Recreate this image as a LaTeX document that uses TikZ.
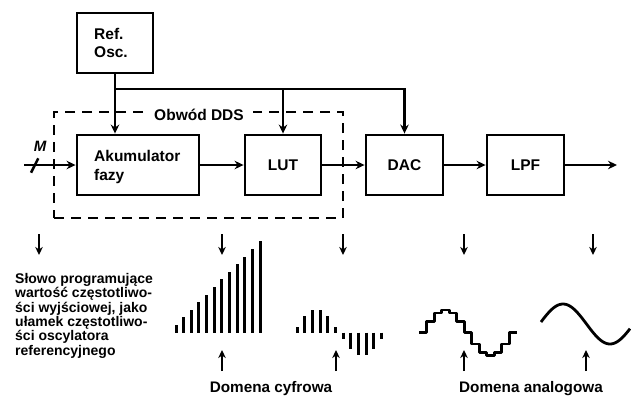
\documentclass[tikz,border=0pt]{standalone}
\usepackage{fontspec}
\setmainfont{Liberation Sans}
\usetikzlibrary{arrows.meta}
\begin{document}
\begin{tikzpicture}[x=1pt,y=-1pt,
  box/.style={draw, line width=2.9pt, minimum width=76pt, minimum height=60pt, inner sep=0pt,
    font=\fontsize{15.5}{18.3}\selectfont\bfseries},
  lbl/.style={font=\fontsize{15.5}{18.3}\selectfont\bfseries, inner sep=0pt},
  ddsbox/.style={draw, dash pattern=on 10pt off 7pt, line width=2.8pt, minimum width=289pt, minimum height=106pt, inner sep=0pt},
  conn/.style={line width=2.8pt, -{Stealth[length=9pt,width=8.5pt,inset=3pt]}},
  plain/.style={line width=2.8pt},
  smallarr/.style={line width=2pt, -{Stealth[length=8pt,width=7.5pt,inset=2.5pt]}},
  bar/.style={line width=3pt},
  wave/.style={line width=2.8pt, line join=round},
  domena/.style={font=\fontsize{15.3}{18}\selectfont\bfseries, inner sep=0pt, anchor=base},
]
\useasboundingbox (0,0) rectangle (631,397);

% dashed DDS frame
\node[ddsbox] (dds) at (198.5,165) {};
\node[lbl, fill=white, inner xsep=9pt, inner ysep=3pt] (ddst) at (199,115) {Obwód DDS};

% blocks
\node[box] (ref) at (115,43) {};
\node[lbl, anchor=base west] (reft) at (94,39) {Ref.};
\node[lbl, anchor=base west] (osct) at (94,57.3) {Osc.};
\node[box, minimum width=122pt] (acc) at (138,165) {};
\node[lbl, anchor=base west] (acct) at (94,161.7) {Akumulator};
\node[lbl, anchor=base west] (fazt) at (94,180) {fazy};
\node[box] (lut) at (283,165) {LUT};
\node[box, minimum width=77pt] (dac) at (404.5,165) {DAC};
\node[box, minimum width=77pt] (lpf) at (525.5,165) {LPF};

% clock distribution
\coordinate (j) at (115,89);
\draw[plain] (ref.south) -- (j);
\draw[conn] (j) -- (j |- acc.north);
\draw[conn] (j) -| (dac.north);
\draw[conn] (j -| lut.north) -- (lut.north);

% signal path
\coordinate (in) at (24,165);
\coordinate (out) at (617,165);
\draw[conn] (in) -- (acc.west);
\draw[conn] (acc) -- (lut);
\draw[conn] (lut) -- (dac);
\draw[conn] (dac) -- (lpf);
\draw[conn] (lpf) -- (out);
\draw[line width=2.5pt] (31,172.7) -- (38.3,158.3);
\node[font=\fontsize{15}{15}\selectfont\bfseries\itshape, inner sep=0pt] (m) at (40,146) {M};

% down arrows
\foreach \x in {39,222,343,464,593} \draw[smallarr] (\x,234) -- (\x,255);
% up arrows
\foreach \x in {222,336,464,586} \draw[smallarr] (\x,371) -- (\x,350);

% ramp samples
\foreach \i in {0,...,11} \draw[bar] ({176+7.64*\i},332.7) -- ({176+7.64*\i},{332.7-7.62*(\i+1)});
% sine samples
\foreach \i in {0,...,11} \draw[bar] ({297+7.67*\i},332.7) -- ++(0,{-23*sin(15+30*\i)});
% staircase
\draw[wave] (419.3,332.7) \foreach \i in {1,...,12} { -- ({419.3+7.5*\i},{332.7-22.7*sin(30*(\i-1))}) -- ({419.3+7.5*\i},{332.7-22.7*sin(30*\i)}) } -- (516.8,332.7);
% smooth sine
\draw[wave] plot[domain=541:630, samples=60, smooth] (\x, {324 - 20*sin(((\x-539.5)/94)*360)});

% texts
\node[font=\fontsize{14}{14.4}\selectfont\bfseries, align=left, anchor=north west, inner sep=0pt] (slowo) at (15,273) {Słowo programujące\\wartość częstotliwo-\\ści wyjściowej, jako\\ułamek częstotliwo-\\ści oscylatora\\referencyjnego};
\node[domena] (dc) at (271,392) {Domena cyfrowa};
\node[domena] (da) at (531,392) {Domena analogowa};
\end{tikzpicture}
\end{document}
